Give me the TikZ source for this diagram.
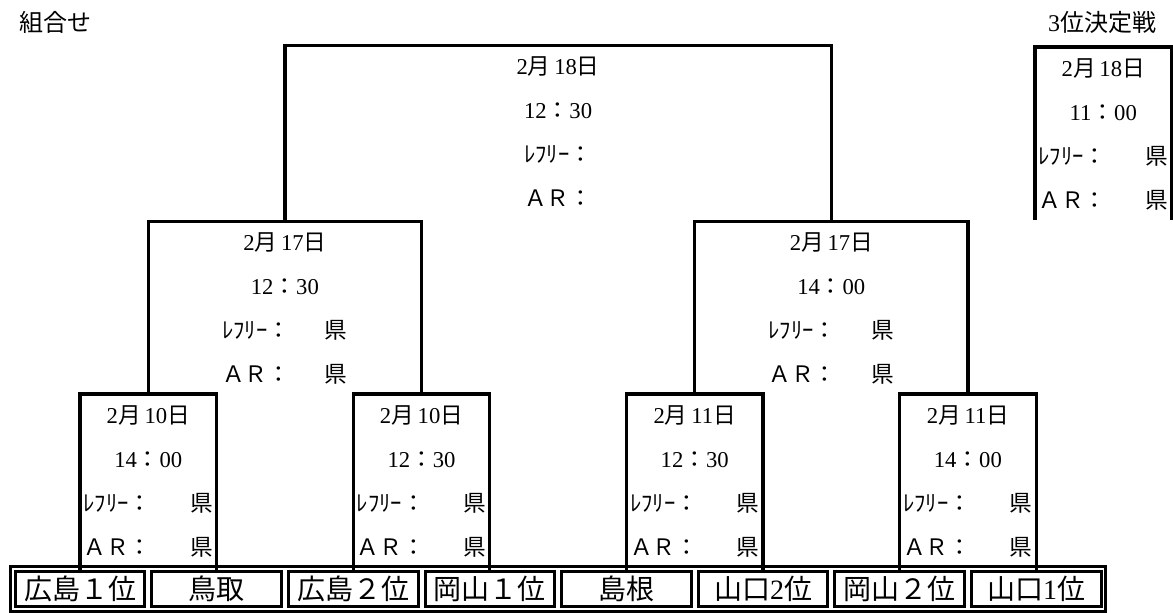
\documentclass[tikz,border=0pt]{standalone}
\usepackage{fontspec}
\setmainfont{Liberation Serif}
\newfontfamily\cjk{Noto Sans CJK JP}
\usetikzlibrary{positioning,fit}

\begin{document}
\begin{tikzpicture}[x=0.75pt, y=-0.75pt]
    \tikzstyle{team} = [rectangle, draw=black, line width=2.25pt, minimum width=97.2pt, minimum height=26.25pt, inner sep=0pt, font=\fontsize{21}{21}\selectfont\cjk]
    \tikzstyle{frame} = [rectangle, draw=black, line width=2.25pt, inner sep=2.6pt]
    \tikzstyle{info} = [anchor=north, yshift=-8.5pt, align=center, inner sep=0pt, font=\fontsize{17}{33}\selectfont\cjk]
    \tikzstyle{tie} = [draw=black, line width=2.4pt]
    \tikzstyle{title} = [inner sep=0pt, font=\fontsize{18}{18}\selectfont\cjk]

    \clip (0,0) rectangle (1173,612);

    % teams
    \node [team] (t1) at (80,589) {広島１位};
    \node [team, right=3pt of t1] (t2) {鳥取};
    \node [team, right=3pt of t2] (t3) {広島２位};
    \node [team, right=3pt of t3] (t4) {岡山１位};
    \node [team, right=3pt of t4] (t5) {島根};
    \node [team, right=3pt of t5] (t6) {山口{\rmfamily 2}位};
    \node [team, right=3pt of t6] (t7) {岡山２位};
    \node [team, right=3pt of t7] (t8) {山口{\rmfamily 1}位};
    \node [frame, fit=(t1)(t8)] (row) {};

    % bracket tops
    \coordinate (c1) at (148.3,394);
    \coordinate (c2) at (421.5,394);
    \coordinate (c3) at (694.7,394);
    \coordinate (c4) at (967.9,394);
    \coordinate (c5) at (284.9,221.5);
    \coordinate (c6) at (831.3,221.5);
    \coordinate (c7) at (558.1,45.5);
    \coordinate (c8) at (1103.25,47);
    \coordinate (q1) at (1035,220);
    \coordinate (q2) at (1171.5,220);

    \draw [tie] (t1.north) |- (c1) -| (t2.north);
    \draw [tie] (t3.north) |- (c2) -| (t4.north);
    \draw [tie] (t5.north) |- (c3) -| (t6.north);
    \draw [tie] (t7.north) |- (c4) -| (t8.north);
    \draw [tie] (c1) |- (c5) -| (c2);
    \draw [tie] (c3) |- (c6) -| (c4);
    \draw [tie] (c5) |- (c7) -| (c6);
    \draw [tie] (q1) |- (c8) -| (q2);

    % match info
    \node [info] (m1) at (c1) {{\rmfamily 2}月\,{\rmfamily 10}日\\{\rmfamily 14}：{\rmfamily 00}\\\makebox[97pt]{ﾚﾌﾘｰ：\hfill 県}\\\makebox[97pt]{ＡＲ：\hfill 県}};
    \node [info] (m2) at (c2) {{\rmfamily 2}月\,{\rmfamily 10}日\\{\rmfamily 12}：{\rmfamily 30}\\\makebox[97pt]{ﾚﾌﾘｰ：\hfill 県}\\\makebox[97pt]{ＡＲ：\hfill 県}};
    \node [info] (m3) at (c3) {{\rmfamily 2}月\,{\rmfamily 11}日\\{\rmfamily 12}：{\rmfamily 30}\\\makebox[97pt]{ﾚﾌﾘｰ：\hfill 県}\\\makebox[97pt]{ＡＲ：\hfill 県}};
    \node [info] (m4) at (c4) {{\rmfamily 2}月\,{\rmfamily 11}日\\{\rmfamily 14}：{\rmfamily 00}\\\makebox[97pt]{ﾚﾌﾘｰ：\hfill 県}\\\makebox[97pt]{ＡＲ：\hfill 県}};
    \node [info] (m5) at (c5) {{\rmfamily 2}月\,{\rmfamily 17}日\\{\rmfamily 12}：{\rmfamily 30}\\\makebox[94pt]{ﾚﾌﾘｰ：\hfill 県}\\\makebox[94pt]{ＡＲ：\hfill 県}};
    \node [info] (m6) at (c6) {{\rmfamily 2}月\,{\rmfamily 17}日\\{\rmfamily 14}：{\rmfamily 00}\\\makebox[94pt]{ﾚﾌﾘｰ：\hfill 県}\\\makebox[94pt]{ＡＲ：\hfill 県}};
    \node [info] (m7) at (c7) {{\rmfamily 2}月\,{\rmfamily 18}日\\{\rmfamily 12}：{\rmfamily 30}\\ﾚﾌﾘｰ：\\ＡＲ：};
    \node [info] (m8) at (c8) {{\rmfamily 2}月\,{\rmfamily 18}日\\{\rmfamily 11}：{\rmfamily 00}\\\makebox[97pt]{ﾚﾌﾘｰ：\hfill 県}\\\makebox[97pt]{ＡＲ：\hfill 県}};

    \node [title, anchor=west] (combo) at (19,22) {組合せ};
    \node [title] (third) at (1102,22) {{\rmfamily 3}位決定戦};
\end{tikzpicture}
\end{document}
